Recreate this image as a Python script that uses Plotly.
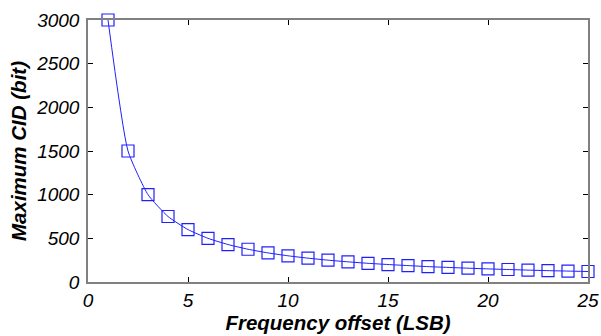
import plotly.graph_objects as go

freq_offset = list(range(1, 26))
max_cid = [3000, 1500, 1000, 750, 600, 500, 429, 375, 333, 300, 273, 250, 231,
           214, 200, 188, 176, 167, 158, 150, 143, 136, 130, 125, 120]
x_ticks = [0, 5, 10, 15, 20, 25]
y_ticks = [0, 500, 1000, 1500, 2000, 2500, 3000]

fig = go.Figure()
fig.add_trace(go.Scatter(
    x=freq_offset, y=max_cid, mode="lines+markers",
    line=dict(color="#2020ff", width=1, shape="spline", smoothing=0.5),
    marker=dict(symbol="square-open", size=12, color="#2020ff", line=dict(width=1.2)),
    cliponaxis=False, showlegend=False,
))

axis_common = dict(
    showline=True, linecolor="#808080", linewidth=1.5, mirror="ticks",
    ticks="inside", ticklen=5, tickcolor="#000000", tickwidth=1,
    showgrid=False, zeroline=False, automargin=False,
    tickfont=dict(family="Arial, Liberation Sans", size=19, color="#000000", style="italic"),
)
title_font = dict(family="Arial, Liberation Sans", size=20.5, color="#000000")

fig.update_layout(
    width=601, height=336,
    margin=dict(l=88, r=13, t=20, b=54),
    paper_bgcolor="white", plot_bgcolor="white",
    xaxis=dict(range=[0, 25], tickvals=x_ticks, ticklabelstandoff=0,
               title=dict(text="<b><i>Frequency offset (LSB)</i></b>", standoff=2, font=title_font),
               **axis_common),
    yaxis=dict(range=[0, 3000], tickvals=y_ticks, ticklabelstandoff=3,
               title=dict(text="<b><i>Maximum CID (bit)</i></b>", standoff=4, font=title_font),
               **axis_common),
)

fig.write_html("out.html")
